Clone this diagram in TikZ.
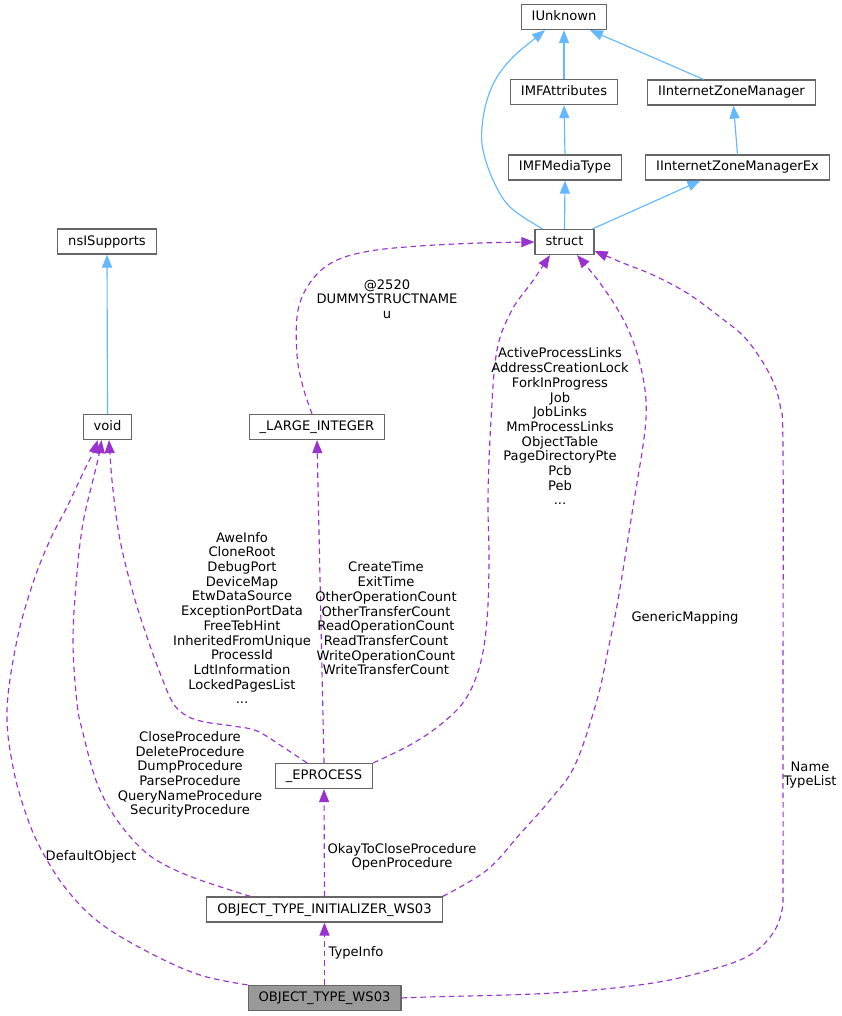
\documentclass[tikz,border=0pt]{standalone}
\usepackage{fontspec}
\setmainfont{DejaVu Sans}
\usetikzlibrary{arrows.meta}
\definecolor{edgeblue}{HTML}{63B8FF}
\definecolor{edgepurple}{HTML}{9A32CD}
\definecolor{boxgray}{HTML}{666666}
\definecolor{mainfill}{HTML}{999999}
\begin{document}
\begin{tikzpicture}[x=1pt,y=-1pt,
  font=\fontsize{13.1}{14.7}\selectfont,
  cls/.style={draw=boxgray, line width=1.2pt, fill=white, inner xsep=10.5pt,
    inner ysep=0pt, minimum height=25pt, text height=9.6pt, text depth=2.6pt},
  inherit/.style={draw=edgeblue, line width=1.15pt, -{Triangle[length=13pt,width=10pt]}},
  usage/.style={draw=edgepurple, line width=1.15pt, dash pattern=on 5.5pt off 4pt,
    -{Triangle[length=13pt,width=10pt]}},
  lbl/.style={align=center, inner sep=0pt}]
\useasboundingbox (0,0) rectangle (842,1016);

% classes
\node[cls] (iunk)   at (564,17)      {IUnknown};
\node[cls] (imfa)   at (564,92)      {IMFAttributes};
\node[cls] (izm)    at (731.5,92.5)  {IInternetZoneManager};
\node[cls] (imfm)   at (565,167.5)   {IMFMediaType};
\node[cls] (izmex)  at (737.5,167.5) {IInternetZoneManagerEx};
\node[cls] (struct) at (564.5,242)   {struct};
\node[cls] (nsi)    at (107,241.5)   {nsISupports};
\node[cls] (void)   at (107.5,427)   {void};
\node[cls] (lint)   at (317,427)     {\_LARGE\_INTEGER};
\node[cls] (eproc)  at (324,776)     {\_EPROCESS};
\node[cls] (init)   at (324.5,909.5) {OBJECT\_TYPE\_INITIALIZER\_WS03};
\node[cls, fill=mainfill] (ws03) at (324.5,998) {OBJECT\_TYPE\_WS03};

% inheritance
\draw[inherit] plot[smooth, tension=0.6] coordinates {([xshift=-22pt]struct.north)
  (510,207) (493,180) (483,150) (482,127) (487,100) (497,77) (513,57) (533,40)
  ([xshift=-19pt]iunk.south)};
\draw[inherit] (imfa.north) -- (iunk.south);
\draw[inherit] ([xshift=-28pt]izm.north) -- ([xshift=26pt]iunk.south);
\draw[inherit] (imfm.north) -- (imfa.south);
\draw[inherit] (izmex.north) -- ([xshift=2pt]izm.south);
\draw[inherit] (struct.north) -- (imfm.south);
\draw[inherit] ([xshift=28pt]struct.north) -- ([xshift=-37pt]izmex.south);
\draw[inherit] (void.north) -- (nsi.south);

% usage relations
\draw[usage] plot[smooth, tension=0.6] coordinates {([xshift=-5pt]lint.north)
  (303,387) (297,355) (298,310) (312,280) (335,261) (370,251) (420,246)
  (480,243) (struct.west)};
\draw[usage] plot[smooth, tension=0.6] coordinates {(eproc.north east)
  (410,745) (440,725) (465,700) (480,665) (487,620) (489,560) (488,497)
  (491,420) (497,350) (512,310) (532,282) ([xshift=-14.5pt]struct.south)};
\draw[usage] plot[smooth, tension=0.6] coordinates {(init.north east)
  (487,870) (520,834) (550,800) (575,765) (597,700) (608,650) (618,600)
  (633,507) (645,430) (645,390) (636,350) (622,317) (600,283)
  ([xshift=12.5pt]struct.south)};
\draw[usage] plot[smooth, tension=0.6] coordinates {(ws03.east)
  (427,997) (553,993) (653,983) (720,967) (753,953) (773,933) (782,910)
  (783,880) (783,700) (783,450) (780,405) (770,375) (747,340) (720,317)
  (687,293) (653,275) (623,263) ([yshift=-9pt]struct.east)};
\draw[usage] plot[smooth, tension=0.6] coordinates {([xshift=-17pt]eproc.north)
  (283,747) (257,731) (233,726) (205,722) (187,716) (173,703) (160,673)
  (147,637) (133,593) (120,540) (113,490) (110,455) ([xshift=1.5pt]void.south)};
\draw[usage] plot[smooth, tension=0.6] coordinates {([xshift=-74pt]init.north)
  (200,880) (167,866) (143,850) (117,820) (97,783) (83,733) (77,703)
  (73,640) (77,573) (83,523) (93,480) (99,455) ([xshift=-6pt]void.south)};
\draw[usage] plot[smooth, tension=0.6] coordinates {(ws03.north west)
  (200,975) (150,953) (100,923) (67,890) (43,853) (27,817) (13,767)
  (7,710) (17,640) (33,583) (50,540) (67,507) (83,473) (93,453)
  ([xshift=-10pt]void.south)};
\draw[usage] (eproc.north) -- (lint.south);
\draw[usage] (init.north) -- (eproc.south);
\draw[usage] (ws03.north) -- (init.south);

% relation labels
\node[lbl] (l1) at (387,299) {@2520\\DUMMYSTRUCTNAME\\u};
\node[lbl] (l2) at (560,426.5) {ActiveProcessLinks\\AddressCreationLock\\ForkInProgress\\Job\\JobLinks\\MmProcessLinks\\ObjectTable\\PageDirectoryPte\\Pcb\\Peb\\...};
\node[lbl] (l3) at (685,618) {GenericMapping};
\node[lbl] (l4) at (810,775) {Name\\TypeList};
\node[lbl] (l5) at (242,618) {AweInfo\\CloneRoot\\DebugPort\\DeviceMap\\EtwDataSource\\ExceptionPortData\\FreeTebHint\\InheritedFromUnique\\ProcessId\\LdtInformation\\LockedPagesList\\...};
\node[lbl] (l6) at (386,618.5) {CreateTime\\ExitTime\\OtherOperationCount\\OtherTransferCount\\ReadOperationCount\\ReadTransferCount\\WriteOperationCount\\WriteTransferCount};
\node[lbl] (l7) at (190,774.5) {CloseProcedure\\DeleteProcedure\\DumpProcedure\\ParseProcedure\\QueryNameProcedure\\SecurityProcedure};
\node[lbl] (l8) at (91,857) {DefaultObject};
\node[lbl] (l9) at (402,857) {OkayToCloseProcedure\\OpenProcedure};
\node[lbl] (l10) at (356,953) {TypeInfo};
\end{tikzpicture}
\end{document}
